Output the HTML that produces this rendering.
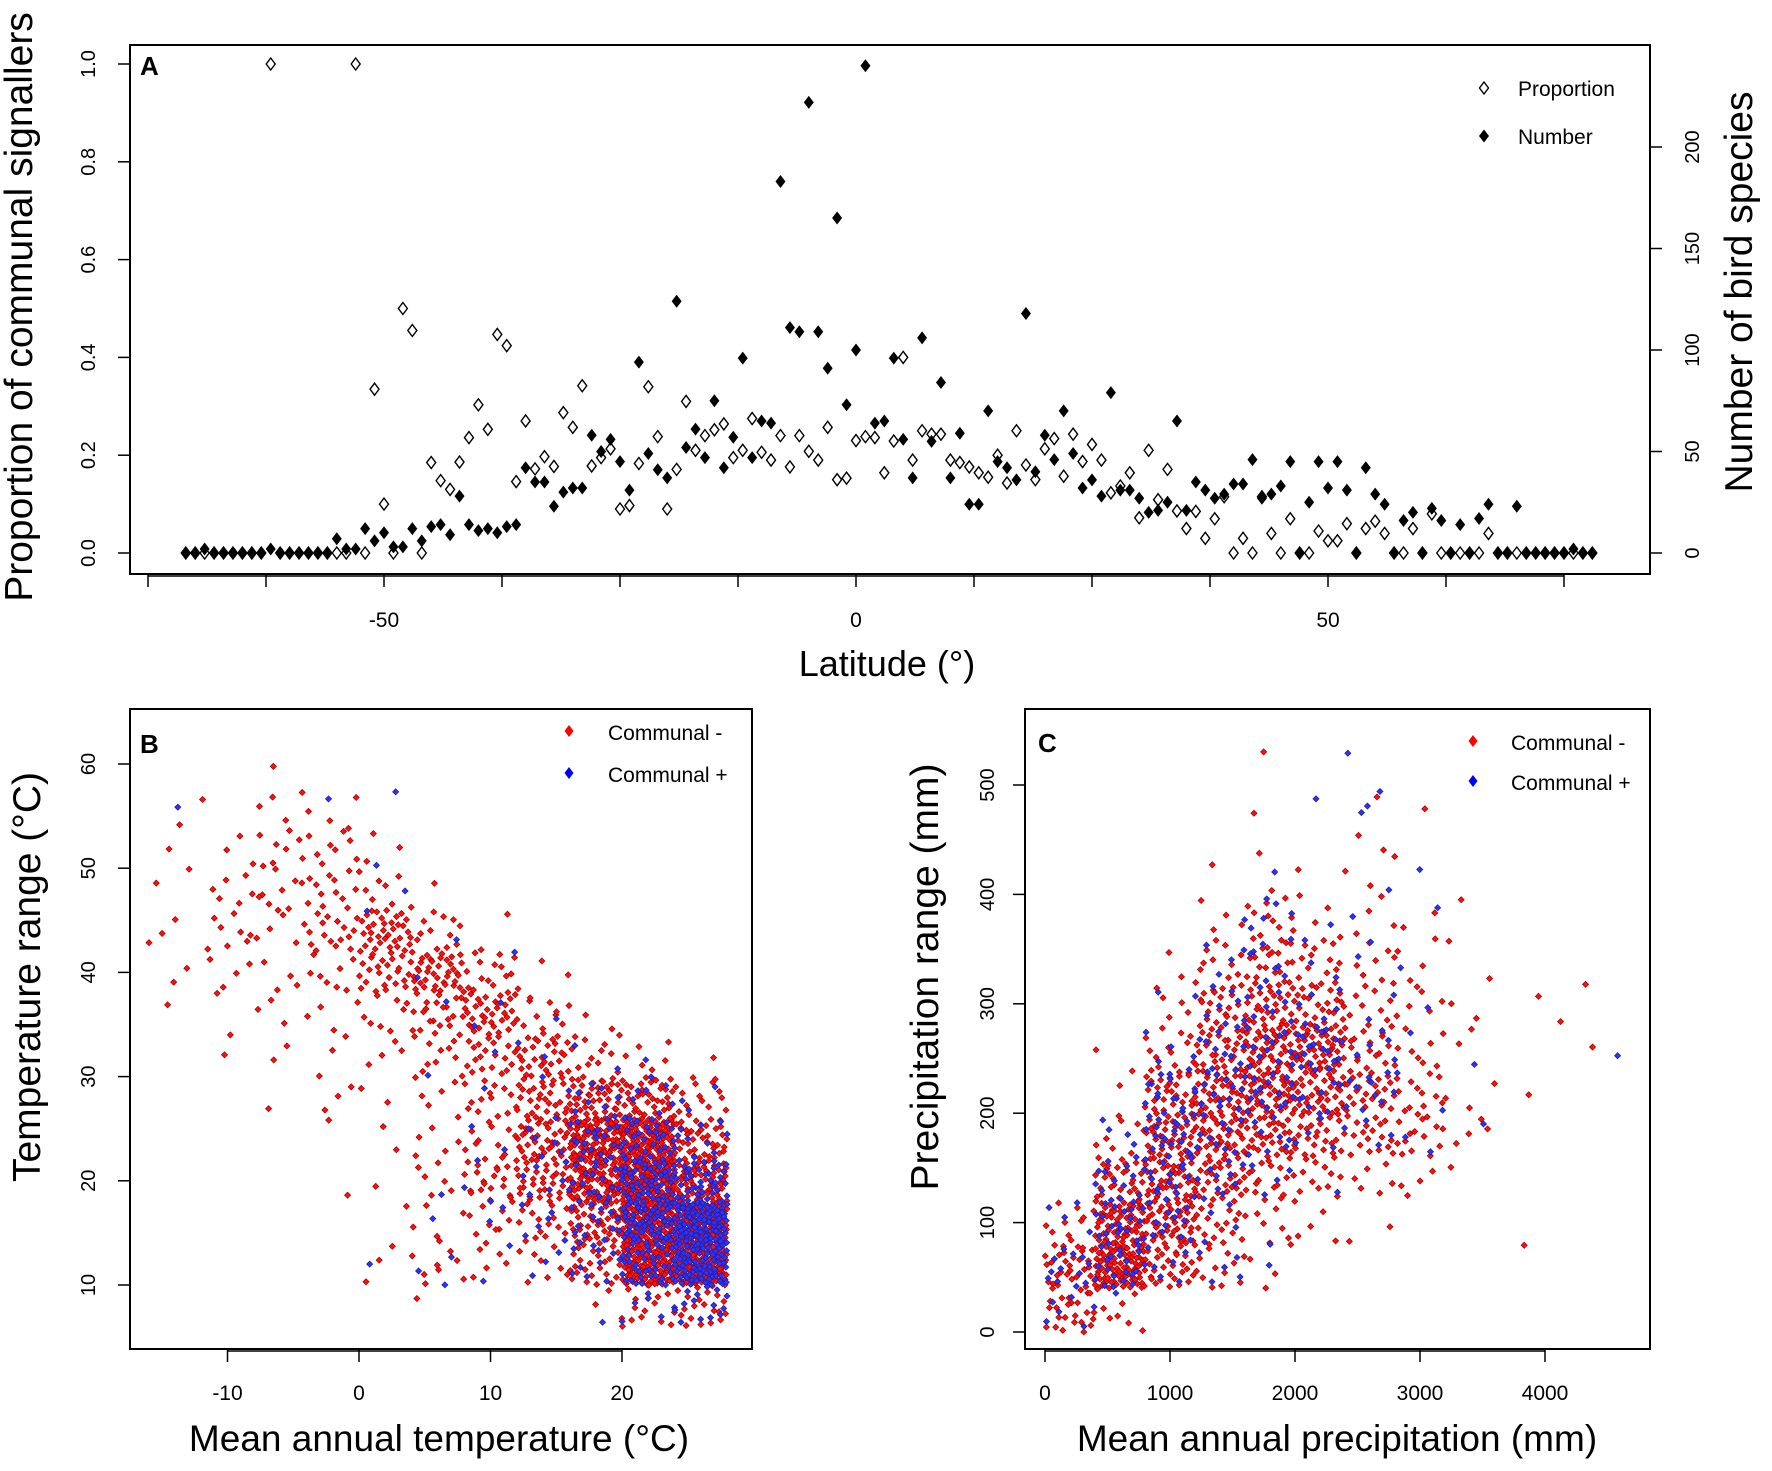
<!DOCTYPE html>
<html><head><meta charset="utf-8">
<style>
html,body{margin:0;padding:0;background:#fff;}
svg{display:block;font-family:"Liberation Sans",Arial,sans-serif;}
</style></head>
<body>
<svg id="fig" width="1772" height="1471" viewBox="0 0 1772 1471" xmlns="http://www.w3.org/2000/svg">
<rect x="0" y="0" width="1772" height="1471" fill="#fff"/>
<g id="pA"></g>
<g id="pB"></g>
<g id="pC"></g>
</svg>
<script>
// ---------- Panel A data ----------
const latA = [];
for (let l = -71; l <= 78; l++) latA.push(l);
const numA = [0,0,2,0,0,0,0,0,0,2,0,0,0,0,0,0,7,2,2,12,6,10,3,3,12,6,13,14,9,28,14,11,12,10,13,14,42,35,35,23,30,32,32,58,50,56,45,31,94,49,41,37,124,52,61,47,75,42,57,96,47,65,64,183,111,109,222,109,91,165,73,100,240,64,65,96,56,37,106,55,84,37,59,24,24,70,45,42,36,118,40,58,46,70,49,32,36,28,79,31,31,27,20,21,25,65,21,35,31,27,29,34,34,46,27,29,33,45,0,25,45,32,45,31,0,42,29,24,0,16,20,0,22,16,0,14,0,17,24,0,0,23,0,0,0,0,0,2,0,0];
const propA = [0,0,0,0,0,0,0,0,0,1.0,0,0,0,0,0,0,0,0,1.0,0,0.335,0.10,0,0.50,0.455,0,0.185,0.148,0.13,0.186,0.236,0.303,0.253,0.447,0.424,0.146,0.27,0.172,0.197,0.177,0.287,0.257,0.342,0.178,0.195,0.213,0.09,0.097,0.183,0.34,0.238,0.09,0.171,0.31,0.21,0.24,0.252,0.264,0.195,0.21,0.275,0.206,0.19,0.24,0.176,0.24,0.208,0.19,0.257,0.15,0.153,0.23,0.238,0.236,0.164,0.229,0.4,0.19,0.25,0.243,0.243,0.19,0.185,0.176,0.164,0.155,0.2,0.143,0.25,0.18,0.15,0.213,0.234,0.157,0.243,0.187,0.222,0.19,0.123,0.137,0.164,0.072,0.21,0.109,0.171,0.086,0.05,0.085,0.03,0.07,0.115,0,0.03,0,0.115,0.04,0,0.07,0,0,0.045,0.025,0.025,0.06,0,0.05,0.065,0.04,0,0,0.05,0,0.08,0,0,0,0,0,0.04,0,0,0,0,0,0,0,0,0,0,0];
const xTicksA = [-75,-62.5,-50,-37.5,-25,-12.5,0,12.5,25,37.5,50,62.5,75];
const xLabelsA = [-50,0,50];
const yTicksP = [0,0.2,0.4,0.6,0.8,1.0];
const yTicksN = [0,50,100,150,200];

// ---------- Panel B data (counts per 4°C x 4°C cell; rows top->bottom) ----------
const bXEdges = [-16,-12,-8,-4,0,4,8,12,16,20,24,28];
const bYEdges = [62,58,54,50,46,42,38,34,30,26,22,18,14,10,6];
const bRed = [
 [0,0,1,0,0,0,0,0,0,0,0],
 [1,1,4,3,0,0,0,0,0,0,0],
 [1,3,8,9,3,0,0,0,0,0,0],
 [2,6,8,12,8,1,0,0,0,0,0],
 [3,8,6,16,35,12,2,0,0,0,0],
 [2,4,4,8,25,40,15,3,0,0,0],
 [1,2,3,4,8,22,35,12,2,0,0],
 [0,1,2,3,4,10,20,30,12,6,1],
 [0,0,1,3,2,6,14,30,45,40,15],
 [0,0,0,1,2,5,12,40,90,100,40],
 [0,0,0,1,1,6,20,35,80,120,60],
 [0,0,0,0,1,5,10,15,45,120,90],
 [0,0,0,0,3,8,5,8,25,100,90],
 [0,0,0,0,0,1,0,0,3,15,20]];
const bBlue = [
 [0,0,0,0,0,0,0,0,0,0,0],
 [1,0,0,1,1,0,0,0,0,0,0],
 [0,0,0,0,1,0,0,0,0,0,0],
 [0,0,0,0,1,0,0,0,0,0,0],
 [0,0,0,0,1,1,0,0,0,0,0],
 [0,0,0,0,0,1,1,0,0,0,0],
 [0,0,0,0,0,1,2,1,0,0,0],
 [0,0,0,0,0,1,1,2,2,1,0],
 [0,0,0,0,0,0,1,3,8,8,3],
 [0,0,0,0,0,0,2,5,20,30,10],
 [0,0,0,0,0,1,3,6,20,50,40],
 [0,0,0,0,0,1,2,6,15,60,100],
 [0,0,0,0,1,3,2,3,10,40,80],
 [0,0,0,0,0,0,0,0,1,6,14]];
const bXTicks = [-10,0,10,20];
const bYTicks = [10,20,30,40,50,60];

// ---------- Panel C data (counts per 400mm x 40mm cell; rows top->bottom) ----------
const cXEdges = [0,400,800,1200,1600,2000,2400,2800,3200,3600,4000,4400,4800];
const cYEdges = [560,520,480,440,400,360,320,280,240,200,160,120,80,40,0];
const cRed = [
 [0,0,0,0,1,0,0,0,0,0,0,0],
 [0,0,0,0,0,0,1,0,0,0,0,0],
 [0,0,0,0,1,0,2,1,0,0,0,0],
 [0,0,0,1,2,1,3,0,0,0,0,0],
 [0,0,0,4,10,4,4,2,1,0,0,0],
 [0,0,2,10,20,12,7,4,2,0,0,0],
 [0,0,5,22,32,25,10,6,2,1,2,0],
 [0,1,12,30,45,50,18,8,2,0,1,0],
 [0,2,30,45,50,40,25,12,3,1,0,0],
 [0,8,40,40,35,25,18,15,4,0,0,0],
 [0,30,45,30,18,12,6,4,1,0,0,0],
 [10,60,45,18,8,4,2,0,0,0,0,0],
 [30,90,30,12,4,0,0,0,0,1,0,0],
 [25,8,0,0,0,0,0,0,0,0,0,0]];
const cBlue = [
 [0,0,0,0,0,0,1,0,0,0,0,0],
 [0,0,0,0,0,1,2,0,0,0,0,0],
 [0,0,0,0,0,0,1,0,0,0,0,0],
 [0,0,0,0,1,0,1,1,0,0,0,0],
 [0,0,0,1,5,1,1,1,0,0,0,0],
 [0,0,0,4,8,3,2,1,0,0,0,0],
 [0,0,1,8,8,6,2,1,0,0,0,0],
 [0,0,4,10,12,18,5,1,1,0,0,1],
 [0,0,15,15,15,8,10,2,0,0,0,0],
 [0,4,20,10,8,6,3,2,1,0,0,0],
 [0,14,16,10,4,1,0,0,0,0,0,0],
 [4,20,12,4,1,0,0,0,0,0,0,0],
 [12,20,6,5,1,0,0,0,0,0,0,0],
 [6,1,0,0,0,0,0,0,0,0,0,0]];
const cXTicks = [0,1000,2000,3000,4000];
const cYTicks = [0,100,200,300,400,500];

// ---------- helpers ----------
const NS = "http://www.w3.org/2000/svg";
function mk(tag, attrs, parent) {
  const e = document.createElementNS(NS, tag);
  for (const k in attrs) e.setAttribute(k, attrs[k]);
  parent.appendChild(e);
  return e;
}
function txt(parent, x, y, s, size, opts) {
  opts = opts || {};
  const t = document.createElementNS(NS, "text");
  t.setAttribute("x", x); t.setAttribute("y", y);
  t.setAttribute("font-size", size);
  t.setAttribute("text-anchor", opts.anchor || "middle");
  if (opts.weight) t.setAttribute("font-weight", opts.weight);
  if (opts.rot !== undefined) t.setAttribute("transform", "rotate(" + opts.rot + " " + x + " " + y + ")");
  t.setAttribute("fill", "#000");
  t.textContent = s;
  parent.appendChild(t);
  return t;
}
function diamond(x, y, w, h) {
  return (x) + "," + (y - h / 2) + " " + (x + w / 2) + "," + y + " " + x + "," + (y + h / 2) + " " + (x - w / 2) + "," + y;
}
function halton(i, b) { let f = 1, r = 0; while (i > 0) { f /= b; r += f * (i % b); i = Math.floor(i / b); } return r; }

// ---------- Panel A ----------
const gA = document.getElementById("pA");
const xA = l => 856 + l * 9.44;
const yP = p => 553 - p * 489;
const yN = n => 553 - n * 2.03;
let r = mk("rect", {x:130, y:45, width:1520, height:529, fill:"none", stroke:"#000", "stroke-width":2}, gA);


let ax = mk("g", {}, gA);


mk("line", {x1:xA(xTicksA[0]), y1:576, x2:xA(xTicksA[xTicksA.length-1]), y2:576, stroke:"#000", "stroke-width":1.5}, ax);
xTicksA.forEach(t => mk("line", {x1:xA(t), y1:574, x2:xA(t), y2:587, stroke:"#000", "stroke-width":1.5}, ax));
xLabelsA.forEach(t => txt(ax, xA(t), 627, String(t), 21));
let ayl = mk("g", {}, gA);


yTicksP.forEach(t => { mk("line", {x1:118, y1:yP(t), x2:130, y2:yP(t), stroke:"#000", "stroke-width":1.5}, ayl); txt(ayl, 95, yP(t), t.toFixed(1), 20, {rot:-90}); });
let ayr = mk("g", {}, gA);


yTicksN.forEach(t => { mk("line", {x1:1650, y1:yN(t), x2:1662, y2:yN(t), stroke:"#000", "stroke-width":1.5}, ayr); txt(ayr, 1699, yN(t), String(t), 20, {rot:-90}); });
let tt = txt(gA, 32, 307, "Proportion of communal signallers", 39, {rot:-90});


tt = txt(gA, 1752, 292, "Number of bird species", 39, {rot:-90});


tt = txt(gA, 887, 676, "Latitude (°)", 36);


tt = txt(gA, 140, 75, "A", 26, {anchor:"start", weight:"bold"});


const propG = mk("g", {}, gA);


const numG = mk("g", {}, gA);


latA.forEach((l, i) => {
  const p = mk("polygon", {points: diamond(xA(l), yP(propA[i]), 9, 12), fill:"#fff", stroke:"#000", "stroke-width":1.4}, propG);
  
  
});
latA.forEach((l, i) => {
  const p = mk("polygon", {points: diamond(xA(l), yN(numA[i]), 10, 13), fill:"#000"}, numG);
  
  
});
let lg = mk("g", {}, gA);


mk("polygon", {points: diamond(1484, 88, 9, 12), fill:"#fff", stroke:"#000", "stroke-width":1.4}, lg);
txt(lg, 1518, 96, "Proportion", 21, {anchor:"start"});
mk("polygon", {points: diamond(1484, 136, 10, 13), fill:"#000"}, lg);
txt(lg, 1518, 144, "Number", 21, {anchor:"start"});

// ---------- scatter helper ----------
function scatterPanel(g, xEdges, yEdges, red, blue, xf, yf, seedBase) {
  const sg = mk("g", {}, g);
  
  
  const draw = (grid, fill, stroke, off) => {
    for (let ri = 0; ri < grid.length; ri++) for (let ci = 0; ci < grid[ri].length; ci++) {
      const n = grid[ri][ci];
      const x0 = xEdges[ci], x1 = xEdges[ci+1], y0 = yEdges[ri], y1 = yEdges[ri+1];
      const o = (ri * 13 + ci * 7) * 17 + off;
      for (let k = 0; k < n; k++) {
        const vx = x0 + halton(o + k + 1, 2) * (x1 - x0);
        const vy = y0 + halton(o + k + 1, 3) * (y1 - y0);
        const p = mk("polygon", {points: diamond(xf(vx), yf(vy), 6, 6), fill:fill, stroke:stroke, "stroke-width":0.8}, sg);
        
        
      }
    }
  };
  draw(red, "#ff1010", "#b00000", seedBase);
  draw(blue, "#3030ff", "#2020a0", seedBase + 5000);
}

// ---------- Panel B ----------
const gB = document.getElementById("pB");
const xB = t => 359 + t * 13.15;
const yB = v => 1285 - (v - 10) * 10.42;
r = mk("rect", {x:130, y:709, width:622, height:640, fill:"none", stroke:"#000", "stroke-width":2}, gB);


scatterPanel(gB, bXEdges, bYEdges, bRed, bBlue, xB, yB, 11);
ax = mk("g", {}, gB);


mk("line", {x1:xB(-10), y1:1351, x2:xB(20), y2:1351, stroke:"#000", "stroke-width":1.5}, ax);
bXTicks.forEach(t => { mk("line", {x1:xB(t), y1:1349, x2:xB(t), y2:1362, stroke:"#000", "stroke-width":1.5}, ax); txt(ax, xB(t), 1400, String(t), 21); });
ayl = mk("g", {}, gB);


bYTicks.forEach(t => { mk("line", {x1:118, y1:yB(t), x2:130, y2:yB(t), stroke:"#000", "stroke-width":1.5}, ayl); txt(ayl, 95, yB(t), String(t), 20, {rot:-90}); });
tt = txt(gB, 40, 977, "Temperature range (°C)", 39, {rot:-90});


tt = txt(gB, 439, 1451, "Mean annual temperature (°C)", 37);


tt = txt(gB, 140, 753, "B", 26, {anchor:"start", weight:"bold"});


lg = mk("g", {}, gB);


mk("polygon", {points: diamond(569, 731, 9, 12), fill:"#ff0000"}, lg);
txt(lg, 608, 740, "Communal -", 21, {anchor:"start"});
mk("polygon", {points: diamond(569, 773, 9, 12), fill:"#0000ff"}, lg);
txt(lg, 608, 782, "Communal +", 21, {anchor:"start"});

// ---------- Panel C ----------
const gC = document.getElementById("pC");
const xC = v => 1045 + v * 0.125;
const yC = v => 1332 - v * 1.094;
r = mk("rect", {x:1025, y:709, width:625, height:640, fill:"none", stroke:"#000", "stroke-width":2}, gC);


scatterPanel(gC, cXEdges, cYEdges, cRed, cBlue, xC, yC, 29);
ax = mk("g", {}, gC);


mk("line", {x1:xC(0), y1:1351, x2:xC(4000), y2:1351, stroke:"#000", "stroke-width":1.5}, ax);
cXTicks.forEach(t => { mk("line", {x1:xC(t), y1:1349, x2:xC(t), y2:1362, stroke:"#000", "stroke-width":1.5}, ax); txt(ax, xC(t), 1400, String(t), 21); });
ayl = mk("g", {}, gC);


cYTicks.forEach(t => { mk("line", {x1:1013, y1:yC(t), x2:1025, y2:yC(t), stroke:"#000", "stroke-width":1.5}, ayl); txt(ayl, 994, yC(t), String(t), 20, {rot:-90}); });
tt = txt(gC, 938, 977, "Precipitation range (mm)", 39, {rot:-90});


tt = txt(gC, 1337, 1451, "Mean annual precipitation (mm)", 37);


tt = txt(gC, 1038, 752, "C", 26, {anchor:"start", weight:"bold"});


lg = mk("g", {}, gC);


mk("polygon", {points: diamond(1473, 741, 9, 12), fill:"#ff0000"}, lg);
txt(lg, 1511, 750, "Communal -", 21, {anchor:"start"});
mk("polygon", {points: diamond(1473, 781, 9, 12), fill:"#0000ff"}, lg);
txt(lg, 1511, 790, "Communal +", 21, {anchor:"start"});
</script>
</body></html>
